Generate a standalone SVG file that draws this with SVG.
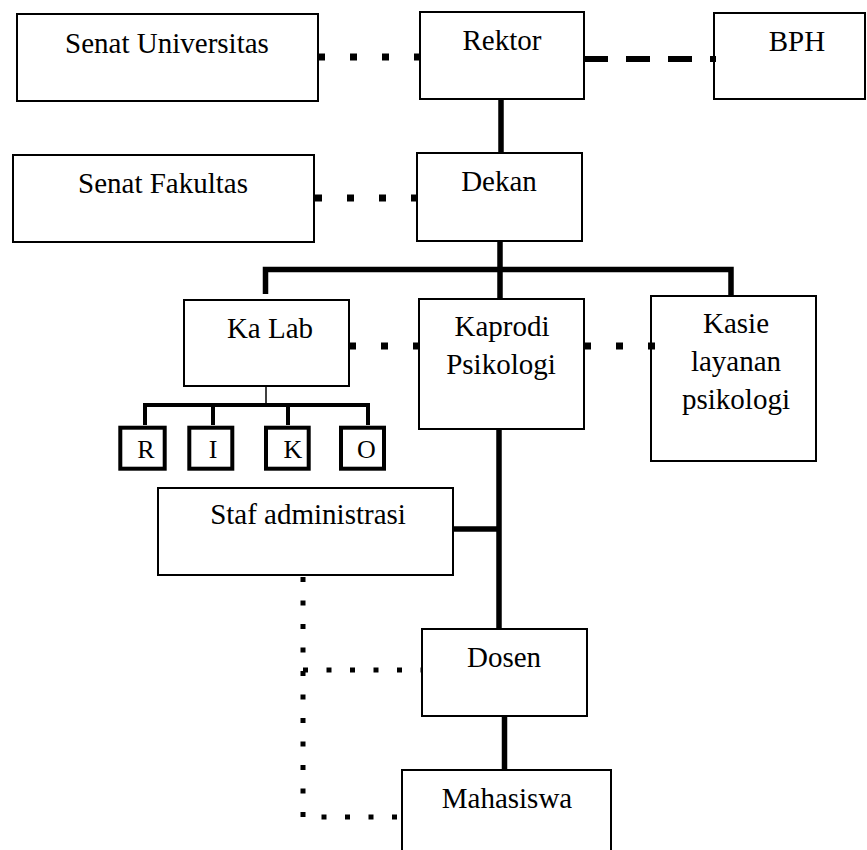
<svg xmlns="http://www.w3.org/2000/svg" width="867" height="850" viewBox="0 0 867 850">
<style>
  .box{fill:#fff;stroke:#000;stroke-width:2}
  .sm{fill:#fff;stroke:#000;stroke-width:4}
  .t{font-family:'Liberation Serif','DejaVu Serif',serif;font-size:29px;fill:#000;text-anchor:middle}
  .ts{font-family:'Liberation Serif','DejaVu Serif',serif;font-size:26px;fill:#000;text-anchor:middle}
  .solid{stroke:#000;stroke-width:5.5;fill:none}
  .thin{stroke:#000;stroke-width:1.5;fill:none}
  .mid{stroke:#000;stroke-width:4;fill:none}
  .dot{stroke:#000;stroke-width:7;stroke-dasharray:7 25;fill:none}
  .dash{stroke:#000;stroke-width:6;stroke-dasharray:24 18;fill:none}
  .fine{stroke:#000;stroke-width:5;stroke-dasharray:5 18.5;fill:none}
</style>
<rect width="867" height="850" fill="#fff"/>
<g id="senat-universitas"><rect class="box" x="17" y="14" width="301" height="87"/><text class="t" x="167" y="53">Senat Universitas</text></g>
<g id="rektor"><rect class="box" x="420" y="12" width="164" height="87"/><text class="t" x="502" y="50">Rektor</text></g>
<g id="bph"><rect class="box" x="714" y="13" width="151" height="86"/><text class="t" x="797" y="51">BPH</text></g>
<g id="senat-fakultas"><rect class="box" x="13" y="155" width="301" height="87"/><text class="t" x="163" y="193">Senat Fakultas</text></g>
<g id="dekan"><rect class="box" x="417" y="153" width="165" height="88"/><text class="t" x="499" y="191">Dekan</text></g>
<g id="ka-lab"><rect class="box" x="184" y="300" width="165" height="86"/><text class="t" x="270" y="338">Ka Lab</text></g>
<g id="kaprodi"><rect class="box" x="419" y="299" width="165" height="130"/><text class="t" x="502" y="336">Kaprodi</text><text class="t" x="501" y="374">Psikologi</text></g>
<g id="kasie"><rect class="box" x="651" y="296" width="165" height="165"/><text class="t" x="736" y="333">Kasie</text><text class="t" x="736" y="371">layanan</text><text class="t" x="736" y="409">psikologi</text></g>
<g id="r"><rect class="sm" x="120.3" y="427.7" width="44.4" height="41"/><text class="ts" x="146" y="458">R</text></g>
<g id="i"><rect class="sm" x="189.3" y="427.7" width="43" height="41"/><text class="ts" x="213" y="458">I</text></g>
<g id="k"><rect class="sm" x="266" y="427.7" width="42.7" height="41"/><text class="ts" x="293" y="458">K</text></g>
<g id="o"><rect class="sm" x="341" y="427.7" width="43" height="41"/><text class="ts" x="366.5" y="458">O</text></g>
<g id="staf"><rect class="box" x="158" y="488" width="295" height="87"/><text class="t" x="308" y="524">Staf administrasi</text></g>
<g id="dosen"><rect class="box" x="422" y="629" width="165" height="87"/><text class="t" x="504" y="667">Dosen</text></g>
<g id="mahasiswa"><rect class="box" x="402" y="770" width="209" height="100"/><text class="t" x="507" y="808">Mahasiswa</text></g>
<g id="connectors">
  <line class="dot" x1="318" y1="57" x2="420" y2="57"/>
  <line class="dash" x1="584" y1="59" x2="716" y2="59"/>
  <line class="solid" x1="501" y1="99" x2="501" y2="153"/>
  <line class="dot" x1="315" y1="198" x2="418" y2="198"/>
  <line class="solid" x1="500" y1="241" x2="500" y2="299"/>
  <polyline class="solid" points="265.5,294 265.5,269.5 731,269.5 731,296"/>
  <line class="dot" x1="349" y1="346" x2="420" y2="346"/>
  <line class="dot" x1="584" y1="346" x2="655" y2="346"/>
  <line class="thin" x1="266" y1="386" x2="266" y2="405"/>
  <line class="mid" x1="143" y1="405" x2="370" y2="405"/>
  <line class="mid" x1="145" y1="405" x2="145" y2="425"/>
  <line class="mid" x1="213" y1="405" x2="213" y2="425"/>
  <line class="mid" x1="288" y1="405" x2="288" y2="425"/>
  <line class="mid" x1="368" y1="405" x2="368" y2="425"/>
  <line class="solid" x1="499" y1="429" x2="499" y2="629"/>
  <line class="solid" x1="453" y1="529" x2="499" y2="529"/>
  <line class="solid" x1="504.5" y1="716" x2="504.5" y2="770"/>
  <polyline class="fine" points="303,577 303,817 402,817"/>
  <line class="fine" x1="303" y1="670" x2="422" y2="670"/>
</g>
</svg>
